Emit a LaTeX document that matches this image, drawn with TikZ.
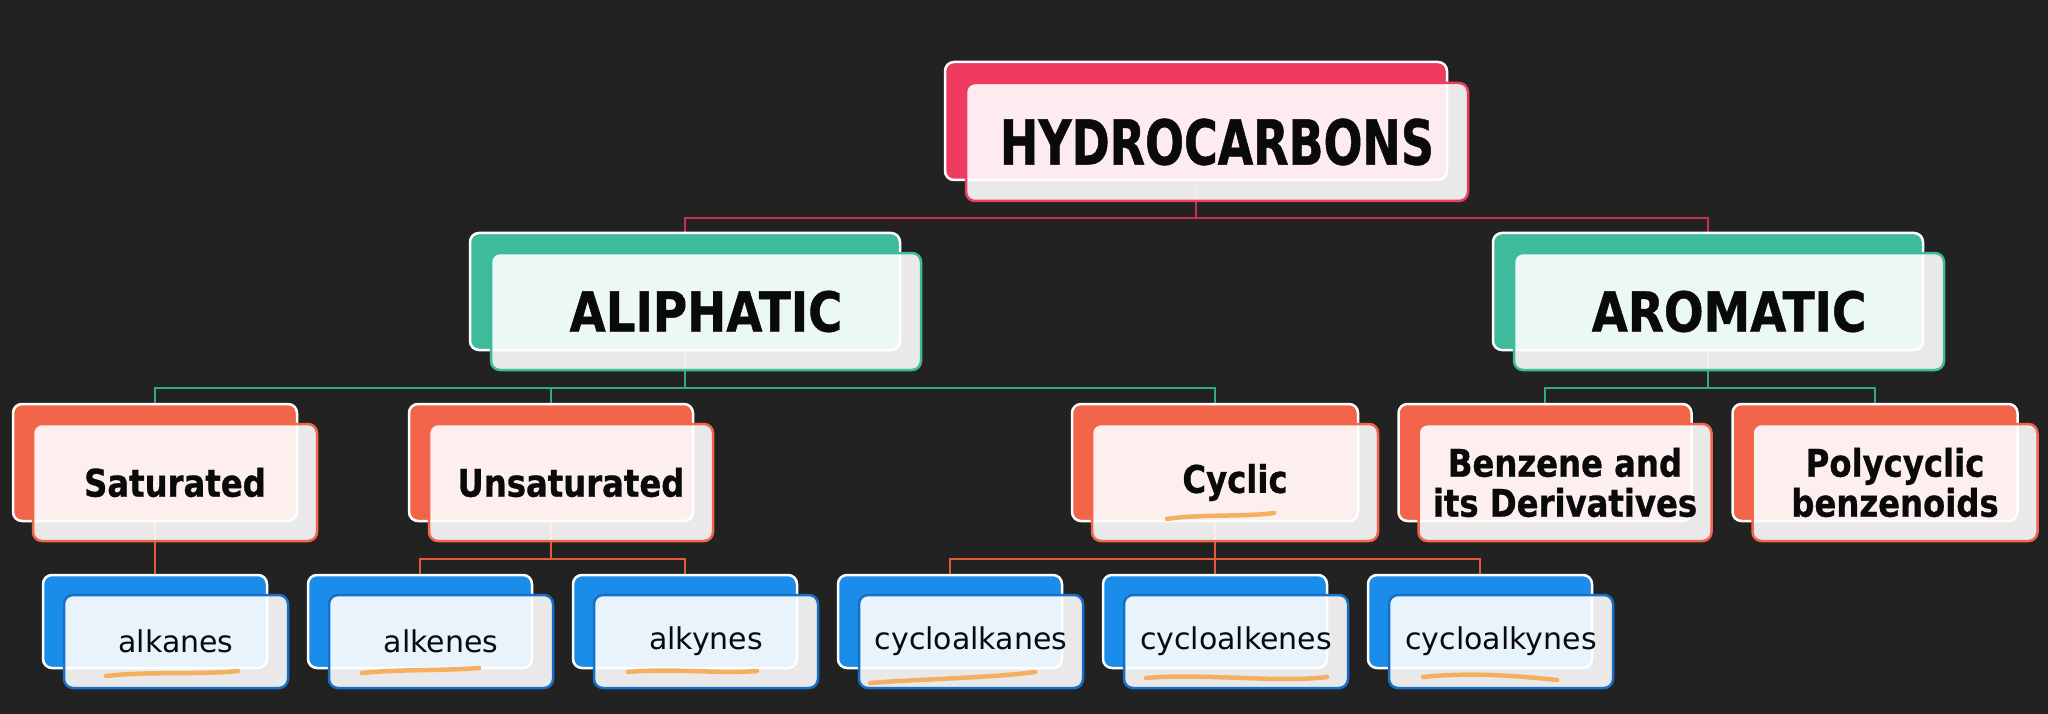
\documentclass[tikz,border=0pt]{standalone}
\usepackage{fontspec}
\setmainfont{DejaVu Sans}
\newfontfamily\titlefont{DejaVu Sans}[FakeStretch=0.74,FakeBold=0.8]
\newfontfamily\headfont{DejaVu Sans}[FakeStretch=0.85,FakeBold=0.8]
\usetikzlibrary{backgrounds}

\definecolor{bg}{HTML}{222222}
\definecolor{hcred}{HTML}{EF3B60}
\definecolor{hcteal}{HTML}{3DBB9B}
\definecolor{hcorange}{HTML}{F2654A}
\definecolor{hcblue}{HTML}{1A8CEA}
\definecolor{hcblueedge}{HTML}{1670C8}
\definecolor{redlink}{HTML}{C7304E}
\definecolor{teallink}{HTML}{33A888}
\definecolor{orangelink}{HTML}{E45A3D}
\definecolor{hilite}{HTML}{F4B060}
\definecolor{ink}{HTML}{0A0A0A}

\tikzset{
  cardback/.style={draw=white, line width=2.5pt, rounded corners=9pt, inner sep=0pt, fill=#1},
  cardface/.style={draw=#1, line width=2.5pt, rounded corners=9pt, inner sep=0pt,
    fill=white, fill opacity=0.9, text opacity=1, text=ink, align=center},
  link/.style={draw=#1, line width=2pt},
  scribble/.style={draw=hilite, line width=4.5pt, line cap=round},
  titlesize/.style={minimum width=502, minimum height=118},
  groupsize/.style={minimum width=430, minimum height=117},
  leafsize/.style={minimum width=224, minimum height=93},
}

\begin{document}
\begin{tikzpicture}[x=1pt,y=-1pt]
  % level 1
  \node[cardback=hcred, titlesize] (hyd-b) at (1196,121) {};
  \node[cardface=hcred, titlesize, font=\titlefont\bfseries\fontsize{62}{66}\selectfont]
    (hyd) at ([shift={(21,21)}]hyd-b.center) {HYDROCARBONS};

  % level 2
  \node[cardback=hcteal, groupsize] (ali-b) at (685,291.5) {};
  \node[cardface=hcteal, groupsize, font=\headfont\bfseries\fontsize{55}{60}\selectfont]
    (ali) at ([shift={(21,20)}]ali-b.center) {ALIPHATIC};
  \node[cardback=hcteal, groupsize] (aro-b) at (1708,291.5) {};
  \node[cardface=hcteal, groupsize, font=\headfont\bfseries\fontsize{55}{60}\selectfont]
    (aro) at ([shift={(21,20)}]aro-b.center) {AROMATIC};

  % level 3
  \foreach \n/\x/\w/\t in {sat/155/284/Saturated, uns/551/284/Unsaturated, cyc/1215/286/Cyclic,
      ben/1545/293/{Benzene and\\its Derivatives}, pol/1875/285/{Polycyclic\\benzenoids}} {
    \node[cardback=hcorange, minimum width=\w, minimum height=117] (\n-b) at (\x,462.5) {};
    \node[cardface=hcorange, minimum width=\w, minimum height=117,
      font=\headfont\bfseries\fontsize{38}{40}\selectfont]
      (\n) at ([shift={(20,20)}]\n-b.center) {\t};
  }

  % level 4
  \foreach \n/\x in {alkanes/155, alkenes/420, alkynes/685,
      cycloalkanes/950, cycloalkenes/1215, cycloalkynes/1480} {
    \node[cardback=hcblue, leafsize] (\n-b) at (\x,621.5) {};
    \node[cardface=hcblueedge, leafsize, font=\fontsize{30}{33}\selectfont]
      (\n) at ([shift={(21,20)}]\n-b.center) {\n};
  }

  % highlights
  \draw[scribble] (1167,519) .. controls (1200,514) and (1245,517) .. (1274,513);
  \draw[scribble] (106,676) .. controls (150,671) and (200,675) .. (238,671);
  \draw[scribble] (362,673) .. controls (400,669) and (440,671) .. (479,668);
  \draw[scribble] (628,672) .. controls (670,668) and (720,674) .. (757,671);
  \draw[scribble] (870,683) .. controls (920,679) and (990,678) .. (1035,672);
  \draw[scribble] (1146,678) .. controls (1200,673) and (1280,683) .. (1327,677);
  \draw[scribble] (1423,677) .. controls (1470,672) and (1520,676) .. (1557,680);

  \begin{scope}[on background layer]
    \fill[bg] (0,0) rectangle (2048,714);
    \coordinate (hyd-j) at ([yshift=-37pt]hyd-b.south);
    \coordinate (ali-j) at ([yshift=-37pt]ali-b.south);
    \coordinate (aro-j) at ([yshift=-37pt]aro-b.south);
    \coordinate (uns-j) at ([yshift=-37pt]uns-b.south);
    \coordinate (cyc-j) at ([yshift=-37pt]cyc-b.south);
    \draw[link=redlink] (hyd-b.south) -- (hyd-j);
    \draw[link=redlink] (ali-b.north) |- (hyd-j) -| (aro-b.north);
    \draw[link=teallink] (ali-b.south) -- (ali-j);
    \draw[link=teallink] (sat-b.north) |- (ali-j) -| (cyc-b.north);
    \draw[link=teallink] (uns-b.north) -- (uns-b.north |- ali-j);
    \draw[link=teallink] (aro-b.south) -- (aro-j);
    \draw[link=teallink] (ben-b.north) |- (aro-j) -| (pol-b.north);
    \draw[link=orangelink] (sat-b.south) -- (alkanes-b.north);
    \draw[link=orangelink] (uns-b.south) -- (uns-j);
    \draw[link=orangelink] (alkenes-b.north) |- (uns-j) -| (alkynes-b.north);
    \draw[link=orangelink] (cyc-b.south) -- (cyc-j);
    \draw[link=orangelink] (cycloalkanes-b.north) |- (cyc-j) -| (cycloalkynes-b.north);
    \draw[link=orangelink] (cycloalkenes-b.north) -- (cyc-j);
  \end{scope}
\end{tikzpicture}
\end{document}
